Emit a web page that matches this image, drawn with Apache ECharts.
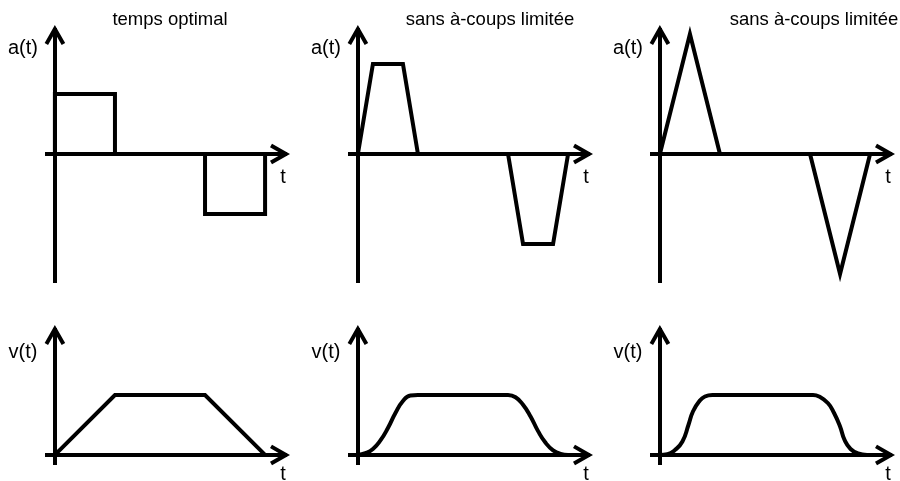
<!DOCTYPE html>
<html>
<head>
<meta charset="utf-8">
<script src="https://cdn.jsdelivr.net/npm/echarts@6/dist/echarts.min.js"></script>
<style>
  html, body { margin: 0; padding: 0; background: #fff; }
  #chart { width: 900px; height: 481px; }
</style>
</head>
<body>
<div id="chart"></div>
<script>
// Profils de mouvement : accélération a(t) et vitesse v(t) pour trois lois de commande

const panelTitles = ['temps optimal', 'sans à-coups limitée', 'sans à-coups limitée'];

// Accélération a(t)
const accT1 = [0, 0, 2, 2, 5, 5, 7, 7];
const accA1 = [0, 2, 2, 0, 0, -2, -2, 0];
const accT2 = [0, 0.5, 1.5, 2, 5, 5.5, 6.5, 7];
const accA2 = [0, 3, 3, 0, 0, -3, -3, 0];
const accT3 = [0, 1, 2, 5, 6, 7];
const accA3 = [0, 4, 0, 0, -4, 0];

// Vitesse v(t)
const velT1 = [0, 2, 5, 7];
const velV1 = [0, 4, 4, 0];
const velT2 = [0, 0.25, 0.5, 0.75, 1, 1.25, 1.5, 1.75, 2, 5, 5.25, 5.5, 5.75, 6, 6.25, 6.5, 6.75, 7];
const velV2 = [0, 0.12, 0.4, 0.97, 1.8, 2.8, 3.6, 3.97, 4, 4, 3.85, 3.35, 2.57, 1.59, 0.81, 0.31, 0.07, 0];
const velT3 = [0, 0.25, 0.5, 0.75, 0.95, 1.1, 1.3, 1.5, 1.75, 5.1, 5.3, 5.6, 5.8, 6, 6.15, 6.35, 6.6, 6.9];
const velV3 = [0, 0.05, 0.33, 0.9, 2, 2.9, 3.55, 3.9, 4, 4, 3.9, 3.45, 2.8, 1.9, 1, 0.4, 0.1, 0];

// Bornes des axes (unités arbitraires)
const timeRange = [-0.33, 7.73];
const accRange = [-4.3, 4.2];
const velRange = [-0.67, 8.47];

const accProfiles = [[accT1, accA1], [accT2, accA2], [accT3, accA3]];
const velProfiles = [[velT1, velV1], [velT2, velV2], [velT3, velV3]];

// Mise en page
const colLeft = [45, 348, 650];
const gridWidth = 242;
const topRow = { top: 28, height: 255 };
const bottomRow = { top: 328, height: 137 };
const INK = '#000';
const LINE_W = 4;
const FONT = '"Liberation Sans", Arial, Helvetica, sans-serif';

// Flèche ouverte (chevron) en bout d'axe, pointe vers le haut
const CHEVRON = 'path://M10.2 0 L20.5 18 L17 20 L10.2 8.1 L3.4 20 L0 18 Z';

function axisLine() {
  return {
    show: true,
    onZero: true,
    symbol: ['none', CHEVRON],
    symbolSize: [20.5, 20],
    symbolOffset: [0, -7],
    lineStyle: { color: INK, width: LINE_W, cap: 'butt' }
  };
}

function bareAxis(gridIndex, range) {
  return {
    type: 'value',
    gridIndex: gridIndex,
    min: range[0],
    max: range[1],
    axisLine: axisLine(),
    axisTick: { show: false },
    axisLabel: { show: false },
    splitLine: { show: false }
  };
}

const grids = [];
const xAxes = [];
const yAxes = [];
const series = [];

function addPanel(left, row, yRange, profile, smooth) {
  const idx = grids.length;
  grids.push({ left: left, top: row.top, width: gridWidth, height: row.height, containLabel: false });
  xAxes.push(bareAxis(idx, timeRange));
  yAxes.push(bareAxis(idx, yRange));
  const ts = profile[0], vs = profile[1];
  series.push({
    type: 'line',
    xAxisIndex: idx,
    yAxisIndex: idx,
    data: ts.map((t, i) => [t, vs[i]]),
    symbol: 'none',
    showSymbol: false,
    smooth: smooth ? 0.5 : false,
    clip: false,
    silent: true,
    z: 3,
    lineStyle: { color: INK, width: LINE_W, join: 'miter', cap: 'butt' }
  });
}

for (let c = 0; c < 3; c++) addPanel(colLeft[c], topRow, accRange, accProfiles[c], false);
for (let c = 0; c < 3; c++) addPanel(colLeft[c], bottomRow, velRange, velProfiles[c], c > 0);

// Textes : titres et noms des axes
const graphic = [];
function label(text, x, y, size) {
  graphic.push({
    type: 'text',
    x: x,
    y: y,
    silent: true,
    style: {
      text: text,
      fill: INK,
      fontSize: size,
      fontFamily: FONT,
      align: 'center',
      verticalAlign: 'middle'
    }
  });
}
const titleCenters = [170, 490, 814];
for (let c = 0; c < 3; c++) {
  const origin = colLeft[c] + 10;
  const tip = colLeft[c] + gridWidth + 3;
  label(panelTitles[c], titleCenters[c], 20, 18.5);
  label('a(t)', origin - 32, 48, 20);
  label('t', tip - 7, 177, 20);
  label('v(t)', origin - 32, 352, 20);
  label('t', tip - 7, 474, 20);
}

const chart = echarts.init(document.getElementById('chart'), null, { renderer: 'canvas' });
chart.setOption({
  animation: false,
  backgroundColor: '#fff',
  grid: grids,
  xAxis: xAxes,
  yAxis: yAxes,
  series: series,
  graphic: graphic
});
</script>
</body>
</html>
